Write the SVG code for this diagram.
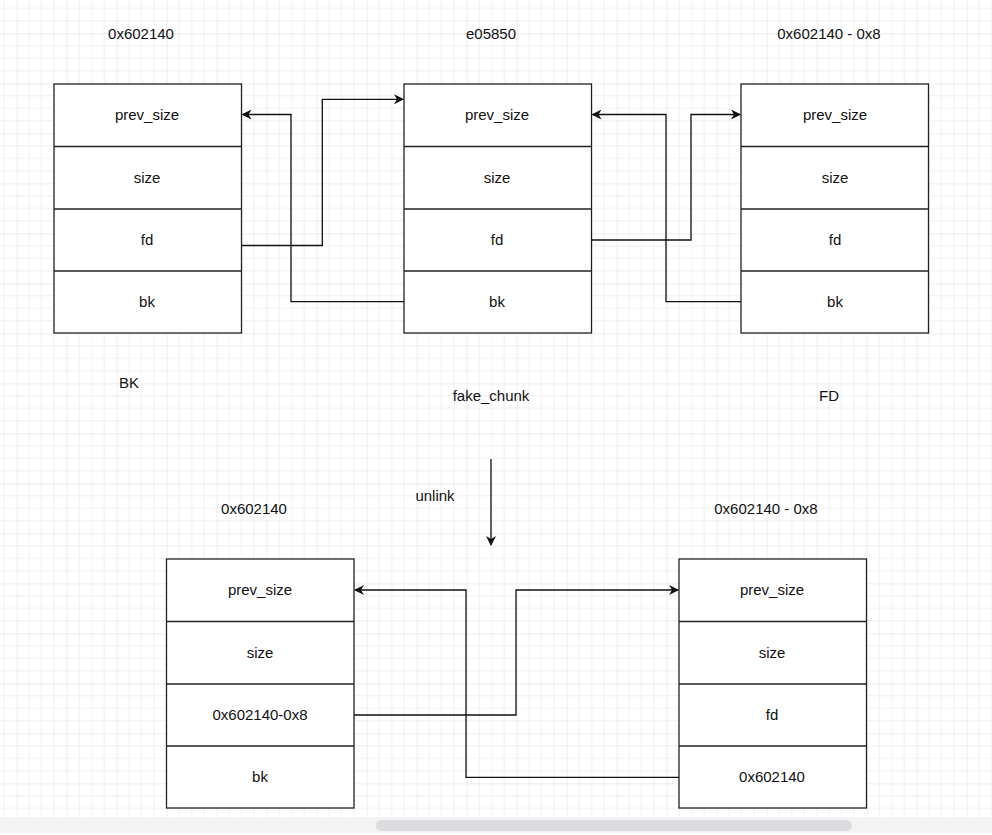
<svg xmlns="http://www.w3.org/2000/svg" width="992" height="835" viewBox="0 0 992 835">
  <style>
    .cell { fill: #ffffff; stroke: #222222; stroke-width: 1.3; }
    .div { stroke: #222222; stroke-width: 1.3; }
    .t { font-family: "Liberation Sans", Arial, Helvetica, sans-serif; font-size: 15px; fill: #111111; text-anchor: middle; }
    .edge { fill: none; stroke: #111111; stroke-width: 1.3; }
  </style>
  <defs>
    <pattern id="grid" width="50" height="50" patternUnits="userSpaceOnUse" x="16.67" y="33.33">
      <path d="M12.5 0V50M25 0V50M37.5 0V50M0 12.5H50M0 25H50M0 37.5H50" stroke="#efefef" stroke-width="1" fill="none"/>
      <path d="M0 0V50M0 0H50" stroke="#dedede" stroke-width="1" fill="none"/>
    </pattern>
    <marker id="arrow" viewBox="0 0 10 10" refX="9" refY="5" markerWidth="10" markerHeight="10" markerUnits="userSpaceOnUse" orient="auto">
      <path d="M0 0L10 5L0 10L3 5Z" fill="#111111"/>
    </marker>
  </defs>

  <!-- canvas -->
  <rect x="0" y="0" width="992" height="835" fill="#ffffff"/>
  <rect x="0" y="0" width="992" height="817" fill="url(#grid)"/>

  <!-- chunk at 0x602140 (BK) -->
  <g id="chunk-bk">
    <rect class="cell" x="54" y="84" width="187.5" height="249"/>
    <line class="div" x1="54" y1="146.5" x2="241.5" y2="146.5"/>
    <line class="div" x1="54" y1="209" x2="241.5" y2="209"/>
    <line class="div" x1="54" y1="271" x2="241.5" y2="271"/>
    <text class="t" x="147" y="120">prev_size</text>
    <text class="t" x="147" y="183">size</text>
    <text class="t" x="147" y="245">fd</text>
    <text class="t" x="147" y="307">bk</text>
  </g>

  <!-- fake chunk at e05850 -->
  <g id="chunk-fake">
    <rect class="cell" x="404" y="84" width="187.5" height="249"/>
    <line class="div" x1="404" y1="146.5" x2="591.5" y2="146.5"/>
    <line class="div" x1="404" y1="209" x2="591.5" y2="209"/>
    <line class="div" x1="404" y1="271" x2="591.5" y2="271"/>
    <text class="t" x="497" y="120">prev_size</text>
    <text class="t" x="497" y="183">size</text>
    <text class="t" x="497" y="245">fd</text>
    <text class="t" x="497" y="307">bk</text>
  </g>

  <!-- chunk at 0x602140 - 0x8 (FD) -->
  <g id="chunk-fd">
    <rect class="cell" x="741" y="84" width="187.5" height="249"/>
    <line class="div" x1="741" y1="146.5" x2="928.5" y2="146.5"/>
    <line class="div" x1="741" y1="209" x2="928.5" y2="209"/>
    <line class="div" x1="741" y1="271" x2="928.5" y2="271"/>
    <text class="t" x="835" y="120">prev_size</text>
    <text class="t" x="835" y="183">size</text>
    <text class="t" x="835" y="245">fd</text>
    <text class="t" x="835" y="307">bk</text>
  </g>

  <!-- after unlink: chunk at 0x602140 -->
  <g id="chunk-bk-after">
    <rect class="cell" x="166.5" y="559" width="187.5" height="249"/>
    <line class="div" x1="166.5" y1="621.5" x2="354" y2="621.5"/>
    <line class="div" x1="166.5" y1="684" x2="354" y2="684"/>
    <line class="div" x1="166.5" y1="746" x2="354" y2="746"/>
    <text class="t" x="260" y="595">prev_size</text>
    <text class="t" x="260" y="658">size</text>
    <text class="t" x="260" y="720">0x602140-0x8</text>
    <text class="t" x="260" y="782">bk</text>
  </g>

  <!-- after unlink: chunk at 0x602140 - 0x8 -->
  <g id="chunk-fd-after">
    <rect class="cell" x="679" y="559" width="187.5" height="249"/>
    <line class="div" x1="679" y1="621.5" x2="866.5" y2="621.5"/>
    <line class="div" x1="679" y1="684" x2="866.5" y2="684"/>
    <line class="div" x1="679" y1="746" x2="866.5" y2="746"/>
    <text class="t" x="772" y="595">prev_size</text>
    <text class="t" x="772" y="658">size</text>
    <text class="t" x="772" y="720">fd</text>
    <text class="t" x="772" y="782">0x602140</text>
  </g>

  <!-- free-standing labels -->
  <g id="label-addr-bk"><text class="t" x="141" y="39">0x602140</text></g>
  <g id="label-addr-fake"><text class="t" x="491" y="39">e05850</text></g>
  <g id="label-addr-fd"><text class="t" x="829" y="39">0x602140 - 0x8</text></g>
  <g id="label-bk"><text class="t" x="129" y="388">BK</text></g>
  <g id="label-fake"><text class="t" x="491" y="401">fake_chunk</text></g>
  <g id="label-fd"><text class="t" x="829" y="401">FD</text></g>
  <g id="label-unlink"><text class="t" x="435" y="501">unlink</text></g>
  <g id="label-addr-bk-after"><text class="t" x="254" y="514">0x602140</text></g>
  <g id="label-addr-fd-after"><text class="t" x="766" y="514">0x602140 - 0x8</text></g>

  <!-- connectors -->
  <g id="connectors">
    <path class="edge" d="M241.5 245.5H322.3V99.3H403" marker-end="url(#arrow)"/>
    <path class="edge" d="M404 301.7H291V114.5H242.5" marker-end="url(#arrow)"/>
    <path class="edge" d="M591.5 240H691V114.5H740" marker-end="url(#arrow)"/>
    <path class="edge" d="M741 301.7H666V114.5H592.5" marker-end="url(#arrow)"/>
    <path class="edge" d="M491 459V545" marker-end="url(#arrow)"/>
    <path class="edge" d="M354 715H516V590H678" marker-end="url(#arrow)"/>
    <path class="edge" d="M679 777.3H466V590H355" marker-end="url(#arrow)"/>
  </g>

  <!-- horizontal scrollbar -->
  <rect x="0" y="817" width="992" height="18" fill="#f3f3f3"/>
  <line x1="0" y1="833.5" x2="992" y2="833.5" stroke="#ffffff" stroke-width="1"/>
  <rect x="376" y="820" width="476" height="11" rx="5.5" fill="#dadce0"/>
</svg>
